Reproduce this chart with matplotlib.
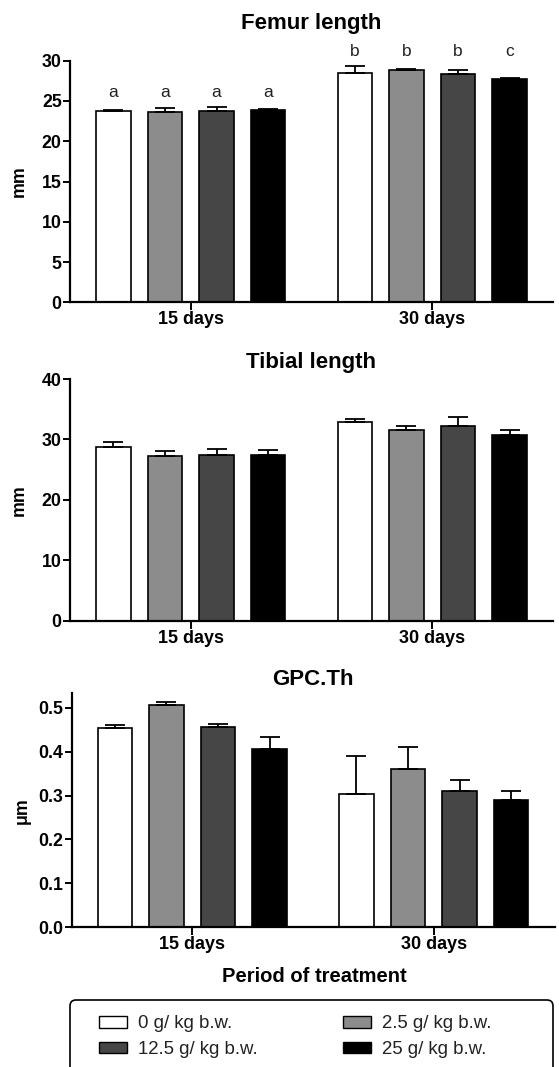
import matplotlib
matplotlib.use("Agg")
import matplotlib.pyplot as plt
import numpy as np
from matplotlib.patches import FancyBboxPatch, Patch
from matplotlib.transforms import IdentityTransform

plt.rcParams['font.family'] = ['Liberation Sans', 'DejaVu Sans']

# ---------------- data ----------------
periods = ["15 days", "30 days"]
doses = ["0 g/ kg b.w.", "2.5 g/ kg b.w.", "12.5 g/ kg b.w.", "25 g/ kg b.w."]
colors = ["#ffffff", "#8c8c8c", "#464646", "#000000"]

femur_mean_15 = [23.8, 23.6, 23.7, 23.9]
femur_err_15 = [0.08, 0.5, 0.5, 0.08]
femur_mean_30 = [28.5, 28.8, 28.4, 27.7]
femur_err_30 = [0.9, 0.2, 0.5, 0.2]
femur_letters_15 = ["a", "a", "a", "a"]
femur_letters_30 = ["b", "b", "b", "c"]

tibia_mean_15 = [28.7, 27.3, 27.5, 27.5]
tibia_err_15 = [0.9, 0.8, 0.9, 0.7]
tibia_mean_30 = [32.9, 31.5, 32.3, 30.8]
tibia_err_30 = [0.4, 0.8, 1.4, 0.7]

gpc_mean_15 = [0.454, 0.506, 0.456, 0.405]
gpc_err_15 = [0.007, 0.008, 0.007, 0.029]
gpc_mean_30 = [0.303, 0.360, 0.311, 0.290]
gpc_err_30 = [0.087, 0.050, 0.025, 0.021]

W, H = 559, 1067
fig = plt.figure(figsize=(W / 100, H / 100), dpi=100)
fig.patch.set_facecolor("white")


def rect(left, right, top, bottom):
    return [left / W, 1 - bottom / H, (right - left) / W, (bottom - top) / H]


offsets = np.array([-1.5, -0.5, 0.5, 1.5]) * 0.2135
bar_w = 0.143
TICK_FS = 12.8


def panel(r, m15, e15, m30, e30, ylim, yticks, yticklabels, ylabel, title, title_base, ylab_x,
          letters=None, letter_y=None):
    ax = fig.add_axes(r)
    x = np.arange(len(periods))
    for i in range(4):
        means = [m15[i], m30[i]]
        errs = [e15[i], e30[i]]
        ax.bar(x + offsets[i], means, width=bar_w, color=colors[i], edgecolor="black",
               linewidth=1.2, zorder=2)
        ax.errorbar(x + offsets[i], means, yerr=[[0, 0], errs], fmt="none", ecolor="black",
                    elinewidth=1.3, capsize=7.5, capthick=1.3, zorder=3)
    ax.set_xlim(-0.5, 1.5)
    ax.set_ylim(*ylim)
    ax.set_yticks(yticks)
    ax.set_yticklabels(yticklabels, fontsize=TICK_FS, fontweight="bold")
    ax.set_xticks(x)
    ax.set_xticklabels(periods, fontsize=13, fontweight="bold")
    for s in ["top", "right"]:
        ax.spines[s].set_visible(False)
    for s in ["left", "bottom"]:
        ax.spines[s].set_linewidth(1.6)
    ax.tick_params(axis="y", direction="out", length=5, width=1.4, pad=1)
    ax.tick_params(axis="x", direction="out", length=5.5, width=1.4, pad=1)
    ax.set_ylabel(ylabel, fontsize=12.8, fontweight="bold")
    ax.yaxis.set_label_coords(ylab_x, 0.5)
    fig.text(0.5 * (r[0] * 2 + r[2]), 1 - title_base / H, title, ha="center", va="baseline",
             fontsize=16, fontweight="bold")
    if letters is not None:
        for j, lets in enumerate(letters):
            for i in range(4):
                ax.text(x[j] + offsets[i], letter_y[j], lets[i], ha="center", va="center",
                        fontsize=12.5, color="#222222", clip_on=False)
    ax.set_facecolor("none")
    return ax


panel(rect(70, 553, 60.7, 302.3), femur_mean_15, femur_err_15, femur_mean_30, femur_err_30,
      (0, 30), [0, 5, 10, 15, 20, 25, 30], ["0", "5", "10", "15", "20", "25", "30"], "mm",
      "Femur length", 29.5, -0.087,
      letters=[femur_letters_15, femur_letters_30], letter_y=[26.1, 31.1])

panel(rect(70, 553, 379, 620.7), tibia_mean_15, tibia_err_15, tibia_mean_30, tibia_err_30,
      (0, 40), [0, 10, 20, 30, 40], ["0", "10", "20", "30", "40"], "mm",
      "Tibial length", 368, -0.087)

panel(rect(71.5, 554.5, 693.3, 927.3), gpc_mean_15, gpc_err_15, gpc_mean_30, gpc_err_30,
      (0, 0.533), [0, 0.1, 0.2, 0.3, 0.4, 0.5], ["0.0", "0.1", "0.2", "0.3", "0.4", "0.5"], "μm",
      "GPC.Th", 685, -0.085)

fig.text(314.5 / W, 1 - 977 / H, "Period of treatment", ha="center", va="center",
         fontsize=14.5, fontweight="bold")

# legend frame (bottom cut off by the figure edge, as in the reference)
frame = FancyBboxPatch((70, -20), 483, (H - 1000) + 20,
                       boxstyle="round,pad=0,rounding_size=6",
                       transform=IdentityTransform(), facecolor="none",
                       edgecolor="black", linewidth=1.2)
fig.patches.append(frame)

handles = [Patch(facecolor=c, edgecolor="black", linewidth=1.0) for c in colors]
order = [0, 2, 1, 3]
fig.legend([handles[i] for i in order], [doses[i] for i in order], ncol=2,
           loc="upper left", bbox_to_anchor=(99 / W, 1 - 1015.5 / H),
           bbox_transform=fig.transFigure, frameon=False, borderpad=0, borderaxespad=0,
           handlelength=1.5, handleheight=0.58, handletextpad=0.6, columnspacing=4.6,
           labelspacing=0.46, prop={"size": 13.4}, labelcolor="#222222")

fig.savefig("out.png", dpi=100, facecolor="white")
